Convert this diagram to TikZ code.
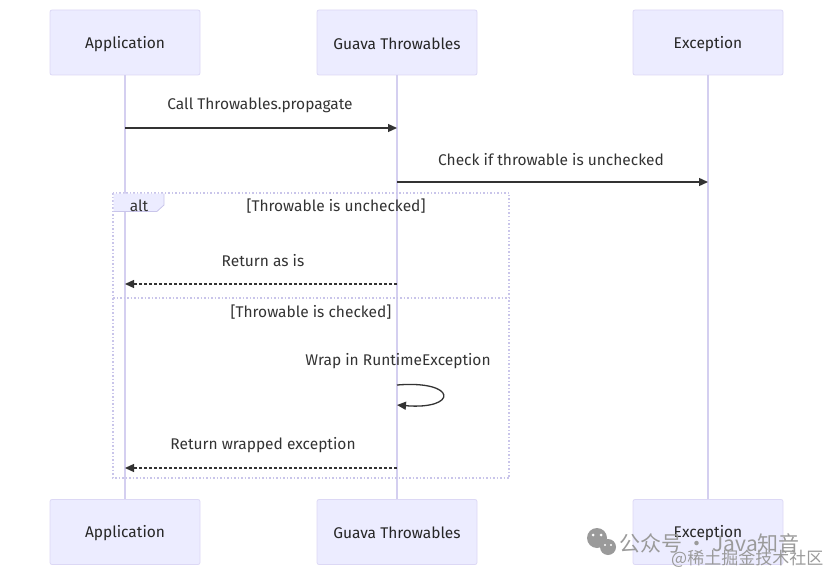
\documentclass[tikz,border=0pt]{standalone}
\usepackage{fontspec}
\setmainfont{Fira Sans}
\newfontfamily\cjk{Noto Sans CJK SC}
\usetikzlibrary{arrows.meta}
\definecolor{actfill}{HTML}{ECECFF}
\definecolor{actdraw}{HTML}{DCD8F5}
\definecolor{life}{HTML}{D4CFF0}
\definecolor{altc}{HTML}{C9C5EA}
\definecolor{msg}{HTML}{333333}
\definecolor{wm}{HTML}{9A9A9A}
\tikzset{
  actor/.style={draw=actdraw, fill=actfill, rounded corners=2pt, minimum width=150pt, minimum height=65pt, font=\fontsize{15.5}{17}\selectfont, text=black!85, line width=0.8pt},
  actortext/.style={font=\fontsize{15.5}{17}\selectfont, text=black!85, inner sep=0pt},
  lifeline/.style={draw=life, line width=1.2pt},
  msgline/.style={draw=msg, line width=1.3pt, -{Triangle[length=9pt,width=8pt]}},
  retline/.style={draw=msg, line width=1.3pt, dash pattern=on 3pt off 2pt, -{Triangle[length=9pt,width=8pt]}},
  msglabel/.style={font=\fontsize{15.5}{17}\selectfont, text=black!80, inner sep=0pt, yshift=-1.5pt},
  altframe/.style={draw=altc, line width=1.2pt, dash pattern=on 1.5pt off 2pt},
  wmtext/.style={text=wm, inner sep=0pt}
}
\begin{document}
\begin{tikzpicture}[x=1pt,y=-1pt]
\useasboundingbox (0,0) rectangle (833,575);
% actors
\node[actor] (a1) at (125,42.5) {};
\node[actor, minimum width=160pt] (g1) at (397,42.5) {};
\node[actor] (e1) at (708,42.5) {};
\node[actor] (a2) at (125,532) {};
\node[actor, minimum width=160pt] (g2) at (397,532) {};
\node[actor] (e2) at (708,532) {};
\node[actortext] (a1t) at (125,44) {Application};
\node[actortext] (g1t) at (397,44) {Guava Throwables};
\node[actortext] (e1t) at (708,44) {Exception};
\node[actortext] (a2t) at (125,533) {Application};
\node[actortext] (g2t) at (397,533) {Guava Throwables};
\node[actortext] (e2t) at (708,533) {Exception};
% lifelines
\draw[lifeline] (a1.south) -- (a2.north);
\draw[lifeline] (g1.south) -- (g2.north);
\draw[lifeline] (e1.south) -- (e2.north);
% coordinates on lifelines
\coordinate (a128) at (125,128); \coordinate (g128) at (397,128);
\coordinate (g182) at (397,182); \coordinate (e182) at (708,182);
\coordinate (g284) at (397,284); \coordinate (a284) at (125,284);
\coordinate (g385) at (397,385); \coordinate (g405) at (397,405);
\coordinate (g468) at (397,468); \coordinate (a468) at (125,468);
% alt frame
\draw[altframe] (113,193) rectangle (509,478);
\draw[altframe] (113,298) -- (509,298);
\fill[actfill] (113.6,193.6) -- (164,193.6) -- (164,205) -- (157,211.4) -- (113.6,211.4) -- cycle;
\draw[altc, line width=0.8pt] (164,193.6) -- (164,205) -- (157,211.4) -- (113.6,211.4);
\node[msglabel] (altlbl) at (139,204) {alt};
\node[msglabel] (c1) at (336,205) {[Throwable is unchecked]};
\node[msglabel] (c2) at (311,311) {[Throwable is checked]};
% messages
\node[msglabel] (m1) at (260,104) {Call Throwables.propagate};
\draw[msgline] (a128) -- (g128);
\node[msglabel] (m2) at (551,158) {Check if throwable is unchecked};
\draw[msgline] (g182) -- (e182);
\node[msglabel] (m3) at (263,259) {Return as is};
\draw[retline] (g284) -- (a284);
\node[msglabel] (m4) at (398,360) {Wrap in RuntimeException};
\draw[msgline] (g385) .. controls (458,380) and (458,410) .. (g405);
\node[msglabel] (m5) at (263,444) {Return wrapped exception};
\draw[retline] (g468) -- (a468);
% watermark
\node[wmtext, anchor=west, font=\cjk\fontsize{21}{23}\selectfont] (wm1) at (619,543) {公众号 · Java知音};
\node[wmtext, anchor=west, font=\cjk\fontsize{17}{19}\selectfont] (wm2) at (671,559) {@稀土掘金技术社区};
\fill[wm] (597,538) circle (10pt);
\fill[wm] (608,547) circle (8pt);
\fill[white] (593,535) circle (1.5pt) (601,535) circle (1.5pt) (605,545) circle (1.2pt) (611,545) circle (1.2pt);
\end{tikzpicture}
\end{document}
